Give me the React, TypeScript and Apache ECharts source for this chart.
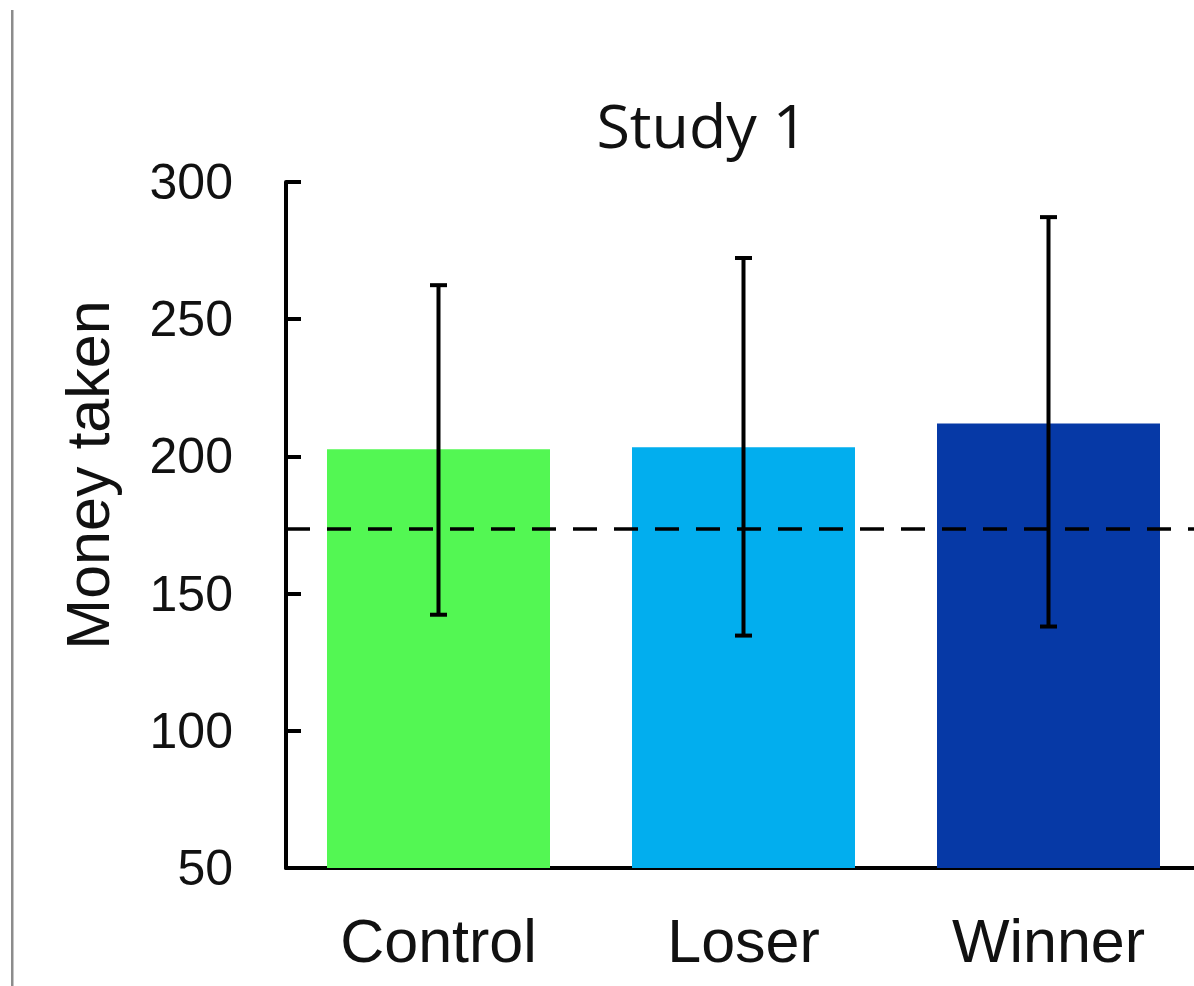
import React, { useEffect, useRef } from "react";
import * as echarts from "echarts";

const categories = ["Control", "Loser", "Winner"];
const means = [202.6, 203.3, 212.0];
const errLow = [142.3, 134.7, 138.0];
const errHigh = [262.4, 272.3, 287.2];
const barColors = ["#53F753", "#02AEEE", "#0639A6"];
const baseline = 173.7;
const yTicks = { min: 50, max: 300, interval: 50 };
const titleText = "Study 1";
const yName = "Money taken";

export default function App() {
  const ref = useRef<HTMLDivElement>(null);
  useEffect(() => {
    if (!ref.current) return;
    const chart = echarts.init(ref.current, null, { renderer: "svg" });
    const font = "'Liberation Sans', Arial, sans-serif";
    chart.setOption({
      animation: false,
      backgroundColor: "#ffffff",
      grid: { left: 286, right: 9, top: 182, bottom: 118, containLabel: false },
      graphic: [
        { type: "rect", shape: { x: 11, y: 10, width: 2.5, height: 980 }, style: { fill: "#8c8c8c" } },
        {
          type: "text",
          x: 702,
          y: 124,
          style: {
            text: titleText,
            font: "61px 'Open Sans', 'Noto Sans', sans-serif",
            fill: "#111",
            textAlign: "center",
            textVerticalAlign: "middle",
          },
        },
        {
          type: "text",
          x: 88,
          y: 475,
          rotation: Math.PI / 2,
          style: {
            text: yName,
            font: "61px " + font,
            fill: "#111",
            textAlign: "center",
            textVerticalAlign: "middle",
          },
        },
      ],
      xAxis: {
        type: "category",
        data: categories,
        axisLine: { show: true, lineStyle: { color: "#000", width: 4 } },
        axisTick: { show: false },
        axisLabel: { fontSize: 61, fontFamily: font, color: "#111", margin: 42 },
      },
      yAxis: {
        type: "value",
        min: yTicks.min,
        max: yTicks.max,
        interval: yTicks.interval,
        splitLine: { show: false },
        axisLine: { show: true, lineStyle: { color: "#000", width: 4 } },
        axisTick: { show: true, inside: true, length: 15, lineStyle: { color: "#000", width: 4 } },
        axisLabel: { fontSize: 50, fontFamily: font, color: "#111", margin: 53 },
      },
      series: [
        {
          type: "bar",
          barWidth: 223,
          data: means.map((v, i) => ({ value: v, itemStyle: { color: barColors[i] } })),
          markLine: {
            silent: true,
            symbol: "none",
            label: { show: false },
            lineStyle: { color: "#000", width: 3.5, type: [24, 17] },
            data: [{ yAxis: baseline }],
            z: 5,
          },
        },
        {
          type: "custom",
          z: 10,
          data: categories.map((_, i) => [i, errLow[i], errHigh[i]]),
          renderItem: (params: any, api: any) => {
            const x = api.value(0);
            const lo = api.coord([x, api.value(1)]);
            const hi = api.coord([x, api.value(2)]);
            const w = 8.5;
            const style = { stroke: "#000", lineWidth: 4 };
            return {
              type: "group",
              children: [
                { type: "line", shape: { x1: lo[0], y1: lo[1], x2: hi[0], y2: hi[1] }, style },
                { type: "line", shape: { x1: hi[0] - w, y1: hi[1], x2: hi[0] + w, y2: hi[1] }, style },
                { type: "line", shape: { x1: lo[0] - w, y1: lo[1], x2: lo[0] + w, y2: lo[1] }, style },
              ],
            };
          },
        },
      ],
    });
    return () => chart.dispose();
  }, []);
  return (
    <div style={{ position: "absolute", left: 0, top: 0, width: 1194, height: 986, overflow: "hidden" }}>
      <div ref={ref} style={{ width: 1210, height: 986 }} />
    </div>
  );
}
